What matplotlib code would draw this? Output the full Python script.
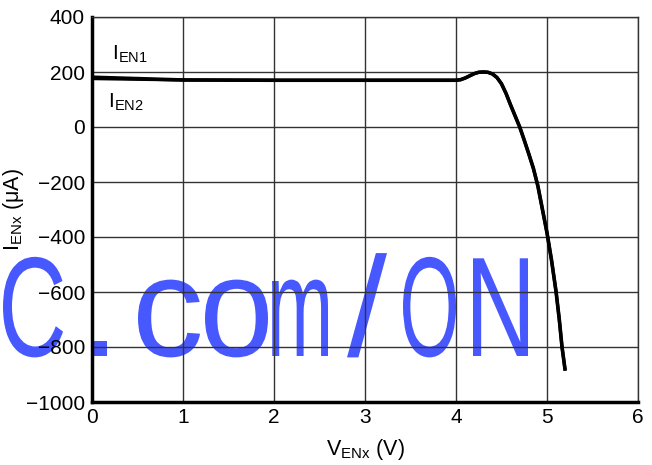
import matplotlib
matplotlib.use("Agg")
import matplotlib.pyplot as plt
from matplotlib.textpath import TextPath
from matplotlib.font_manager import FontProperties
from matplotlib.patches import PathPatch
from matplotlib.transforms import Affine2D, IdentityTransform

plt.rcParams['font.family'] = ['Liberation Sans', 'DejaVu Sans']
plt.rcParams['mathtext.fontset'] = 'custom'
plt.rcParams['mathtext.rm'] = 'Liberation Sans'

# data
v_en = [0, 0.4, 0.8, 1, 2, 3, 4, 4.05, 4.1, 4.15, 4.2, 4.25, 4.3, 4.35, 4.4,
        4.45, 4.5, 4.55, 4.6, 4.65, 4.7, 4.75, 4.8, 4.85, 4.9, 4.95, 5.0,
        5.05, 5.1, 5.135, 5.165, 5.2]
i_en1 = [181, 177, 173, 171, 170, 170, 170, 172, 178, 186, 194, 199, 200, 199, 193,
         180, 157, 122, 80, 40, 0, -48, -98, -150, -215, -300, -385,
         -485, -600, -700, -800, -886]
i_en2 = [176, 174, 172, 171, 170, 170, 170, 172, 178, 186, 194, 199, 200, 199, 193,
         180, 157, 122, 80, 40, 0, -48, -98, -150, -215, -300, -385,
         -485, -600, -700, -800, -886]
x_ticks = [0, 1, 2, 3, 4, 5, 6]
y_ticks = [-1000, -800, -600, -400, -200, 0, 200, 400]
watermark = "C.com/ON"

W, H = 652, 465
fig = plt.figure(figsize=(W / 100, H / 100), dpi=100)
ax = fig.add_axes([92 / W, 1 - 402 / H, (638 - 92) / W, (402 - 17) / H])
ax.set_facecolor('none')
ax.set_zorder(2)

# watermark behind everything: Arial-like glyphs fitted into their slots
prop = FontProperties(family='Liberation Sans')
em = 142.0      # px, so that capitals are ~102 px tall
baseline = H - 356
slots = [(3, 63), (93, 107), (138, 200), (205, 268), (272, 328),
         (347, 387), (403, 456), (473, 528)]
for ch, (sx0, sx1) in zip(watermark, slots):
    tp = TextPath((0, 0), ch, size=em, prop=prop)
    ext = tp.get_extents()
    xs = (sx1 - sx0) / ext.width
    tr = (Affine2D().translate(-ext.x0, 0).scale(xs, 1.0).translate(sx0, baseline))
    patch = PathPatch(tr.transform_path(tp), facecolor='#4858FF', edgecolor='none',
                      transform=IdentityTransform(), zorder=0)
    fig.patches.append(patch)

ax.plot(v_en, i_en2, color='black', lw=2.3, solid_capstyle='butt',
        solid_joinstyle='round', zorder=3)
ax.plot(v_en, i_en1, color='black', lw=2.6, solid_capstyle='butt',
        solid_joinstyle='round', zorder=3)

ax.set_xlim(0, 6)
ax.set_ylim(-1000, 400)
ax.set_xticks(x_ticks)
ax.set_yticks(y_ticks)
ax.set_yticklabels([str(t).replace('-', '\u2212') for t in y_ticks])
ax.grid(True, color='#333333', lw=1.0)
ax.set_axisbelow(True)
ax.tick_params(length=0, labelsize=15)
ax.tick_params(axis='y', pad=5)
ax.tick_params(axis='x', pad=4.5)

for s in ['left', 'bottom']:
    ax.spines[s].set_linewidth(2.5)
for s in ['top', 'right']:
    ax.spines[s].set_linewidth(1.0)
    ax.spines[s].set_color('#333333')

ax.text(0.22, 265, r'I$_{\mathregular{EN1}}$', fontsize=15, ha='left', va='center')
ax.text(0.18, 90, r'I$_{\mathregular{EN2}}$', fontsize=15, ha='left', va='center')

ax.set_xlabel(r'V$_{\mathregular{ENx}}$ (V)', fontsize=15.5, labelpad=7)
ax.set_ylabel('I$_{\\mathregular{ENx}}$ (\u03bcA)', fontsize=15.5, labelpad=0)

fig.savefig('out.png', dpi=100)
